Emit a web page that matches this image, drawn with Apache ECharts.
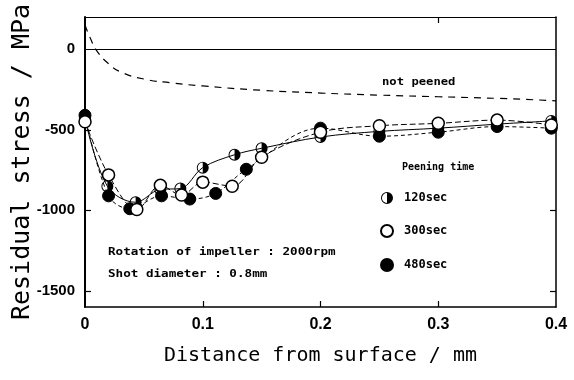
<!DOCTYPE html>
<html><head><meta charset="utf-8">
<script src="https://cdn.jsdelivr.net/npm/echarts@6/dist/echarts.min.js"></script>
<style>html,body{margin:0;padding:0;background:#fff}#c{width:574px;height:380px}</style>
</head><body><div id="c"></div>
<script>
// ---- data ----
const xTickValues = [0, 0.1, 0.2, 0.3, 0.4];
const yTickValues = [0, -500, -1000, -1500];

const notPeenedX = [0, 0.005, 0.01, 0.02, 0.03, 0.05, 0.075, 0.1, 0.15, 0.2, 0.25, 0.3, 0.35, 0.4];
const notPeenedY = [150, 60, -10, -90, -140, -185, -210, -228, -255, -272, -285, -295, -305, -320];

const t120X = [0, 0.019, 0.043, 0.064, 0.081, 0.1, 0.127, 0.15, 0.2, 0.25, 0.3, 0.35, 0.396];
const t120Y = [-430, -850, -950, -870, -865, -735, -655, -615, -545, -510, -490, -465, -445];

const t300X = [0, 0.02, 0.044, 0.064, 0.082, 0.1, 0.125, 0.15, 0.2, 0.25, 0.3, 0.35, 0.396];
const t300Y = [-450, -780, -995, -845, -905, -825, -850, -670, -515, -475, -460, -440, -470];

const t480X = [0, 0.02, 0.038, 0.065, 0.089, 0.111, 0.137, 0.2, 0.25, 0.3, 0.35, 0.396];
const t480Y = [-410, -910, -990, -910, -930, -895, -745, -490, -540, -515, -480, -490];

const seriesNames = ['120sec', '300sec', '480sec'];
const legendTitle = 'Peening time';
const notPeenedLabel = 'not peened';
const noteLines = ['Rotation of impeller : 2000rpm', 'Shot diameter : 0.8mm'];
const xTitle = 'Distance from surface / mm';
const yTitle = 'Residual stress / MPa';

// ---- build chart ----
const pairs = (xs, ys) => xs.map((x, i) => [x, ys[i]]);
const halfIcon = 'path://M10,0A10,10 0 1 1 10,20A10,10 0 1 1 10,0Z M10,1.6A8.4,8.4 0 1 0 10,18.4A8.4,8.4 0 1 0 10,1.6Z M10,1.6A8.4,8.4 0 0 1 10,18.4Z';
const mono = "'DejaVu Sans Mono', 'Liberation Mono', monospace";
const narrow = "'Liberation Sans Narrow', 'Liberation Sans', sans-serif";

const chart = echarts.init(document.getElementById('c'), null, {renderer: 'canvas'});

const baseX = {type: 'value', min: 0, max: 0.4, splitLine: {show: false}};
const baseY = {type: 'value', min: -1600, max: 200, splitLine: {show: false}};

chart.setOption({
  animation: false,
  backgroundColor: '#fff',
  grid: {left: 85, right: 18, top: 17, bottom: 73, show: false, containLabel: false, outerBoundsMode: 'none'},
  xAxis: [
    Object.assign({}, baseX, {
      position: 'bottom',
      axisLine: {show: true, onZero: false, lineStyle: {color: '#000', width: 1.5}},
      axisTick: {show: true, inside: true, length: 6, customValues: [0.1, 0.2, 0.3], lineStyle: {color: '#000', width: 1.2}},
      axisLabel: {customValues: xTickValues, margin: 10, fontFamily: narrow, fontSize: 16, fontWeight: 'bold', color: '#000',
        formatter: v => (v === 0 ? '0' : String(Math.round(v * 10) / 10))},
      name: xTitle, nameLocation: 'middle', nameGap: 39, nameMoveOverlap: false,
      nameTextStyle: {fontFamily: mono, fontSize: 20, color: '#000'}
    }),
    Object.assign({}, baseX, {
      position: 'top',
      axisLine: {show: true, onZero: false, lineStyle: {color: '#000', width: 1.2}},
      axisTick: {show: true, inside: true, length: 6, customValues: [0.3], lineStyle: {color: '#000', width: 1.2}},
      axisLabel: {show: false}
    })
  ],
  yAxis: [
    Object.assign({}, baseY, {
      position: 'left',
      axisLine: {show: true, onZero: false, lineStyle: {color: '#000', width: 2}},
      axisTick: {show: true, inside: true, length: 6, customValues: [-500, -1000, -1500], lineStyle: {color: '#000', width: 1.2}},
      axisLabel: {customValues: yTickValues, margin: 10, fontFamily: narrow, fontSize: 15, fontWeight: 'bold', color: '#000',
        formatter: v => String(v)},
      name: yTitle, nameLocation: 'middle', nameGap: 50, nameRotate: 90, nameMoveOverlap: false,
      nameTextStyle: {fontFamily: mono, fontSize: 25, color: '#000'}
    }),
    Object.assign({}, baseY, {
      position: 'right',
      axisLine: {show: true, onZero: false, lineStyle: {color: '#000', width: 1.5}},
      axisTick: {show: true, inside: true, length: 6, customValues: [-1000, -1500], lineStyle: {color: '#000', width: 1.2}},
      axisLabel: {show: false}
    })
  ],
  legend: {
    orient: 'vertical', left: 380, top: 192, padding: 0, itemWidth: 12, itemHeight: 12, itemGap: 20,
    data: [{name: seriesNames[0], icon: halfIcon}, {name: seriesNames[1], icon: 'circle'}, {name: seriesNames[2], icon: 'circle'}],
    textStyle: {fontFamily: mono, fontSize: 12, fontWeight: 'bold', color: '#000', padding: [0, 0, 0, 6]},
    selectedMode: false
  },
  graphic: [
    {type: 'text', x: 402, y: 162, style: {text: legendTitle, font: "bold 10px " + mono, fill: '#000'}},
    {type: 'text', x: 382, y: 77, scaleX: 1.22, style: {text: notPeenedLabel, font: "bold 10px " + mono, fill: '#000'}},
    {type: 'text', x: 108, y: 247, scaleX: 1.26, style: {text: noteLines[0], font: "bold 10px " + mono, fill: '#000'}},
    {type: 'text', x: 108, y: 269, scaleX: 1.26, style: {text: noteLines[1], font: "bold 10px " + mono, fill: '#000'}}
  ],
  series: [
    {
      name: 'not peened', type: 'line', data: pairs(notPeenedX, notPeenedY), smooth: 0.5,
      showSymbol: false, symbol: 'none', silent: true,
      lineStyle: {color: '#000', width: 1.2, type: [7, 6]},
      markLine: {silent: true, symbol: 'none', label: {show: false},
        lineStyle: {color: '#000', width: 1, type: 'solid'}, data: [{yAxis: 0}]}
    },
    {
      name: seriesNames[0], type: 'line', data: pairs(t120X, t120Y), smooth: 0.35,
      symbol: halfIcon, symbolSize: 12, symbolKeepAspect: true,
      itemStyle: {color: '#000', borderWidth: 0},
      lineStyle: {color: '#000', width: 1, type: 'solid'}, z: 3
    },
    {
      name: seriesNames[1], type: 'line', data: pairs(t300X, t300Y), smooth: 0.35,
      symbol: 'circle', symbolSize: 12,
      itemStyle: {color: '#fff', borderColor: '#000', borderWidth: 1.5},
      lineStyle: {color: '#000', width: 1, type: [6, 3]}, z: 4
    },
    {
      name: seriesNames[2], type: 'line', data: pairs(t480X, t480Y), smooth: 0.35,
      symbol: 'circle', symbolSize: 12,
      itemStyle: {color: '#000', borderColor: '#000', borderWidth: 1},
      lineStyle: {color: '#000', width: 1, type: [4, 3]}, z: 2
    }
  ]
});
</script>
</body></html>
